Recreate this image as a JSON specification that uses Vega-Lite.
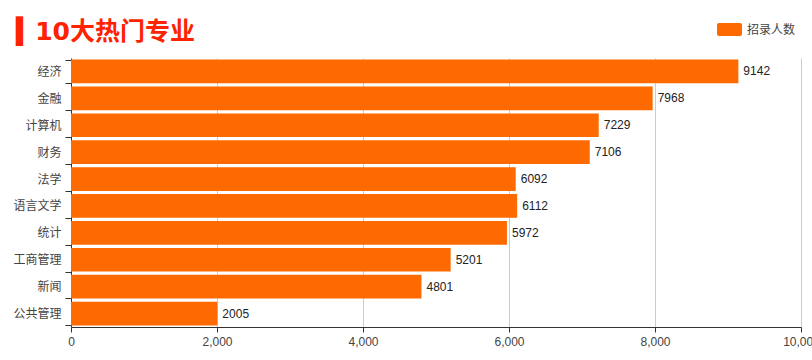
{
  "$schema": "https://vega.github.io/schema/vega-lite/v6.json",
  "autosize": {"type": "none"},
  "padding": {"left": 71, "top": 58, "right": 11, "bottom": 33},
  "width": 730,
  "height": 269,
  "background": "#ffffff",
  "view": {"stroke": null},
  "title": {
    "text": "▍10大热门专业",
    "anchor": "start",
    "frame": "group",
    "dx": -55,
    "dy": 36,
    "font": "DejaVu Sans, Noto Sans CJK SC",
    "fontSize": 25,
    "fontWeight": "bold",
    "color": "#ff2200",
    "offset": 8
  },
  "data": {
    "values": [
      {"major": "经济", "count": 9142, "series": "招录人数"},
      {"major": "金融", "count": 7968, "series": "招录人数"},
      {"major": "计算机", "count": 7229, "series": "招录人数"},
      {"major": "财务", "count": 7106, "series": "招录人数"},
      {"major": "法学", "count": 6092, "series": "招录人数"},
      {"major": "语言文学", "count": 6112, "series": "招录人数"},
      {"major": "统计", "count": 5972, "series": "招录人数"},
      {"major": "工商管理", "count": 5201, "series": "招录人数"},
      {"major": "新闻", "count": 4801, "series": "招录人数"},
      {"major": "公共管理", "count": 2005, "series": "招录人数"}
    ]
  },
  "encoding": {
    "y": {
      "field": "major",
      "type": "nominal",
      "sort": null,
      "title": null,
      "scale": {"paddingInner": 0.12, "paddingOuter": 0.06},
      "axis": {
        "domainColor": "#333333",
        "tickColor": "#333333",
        "tickBand": "extent",
        "tickSize": 6,
        "labelFont": "Noto Sans CJK SC",
        "labelFontSize": 12,
        "labelColor": "#444444",
        "labelPadding": 4,
        "grid": false
      }
    },
    "x": {
      "field": "count",
      "type": "quantitative",
      "title": null,
      "scale": {"domain": [0, 10000]},
      "axis": {
        "values": [0, 2000, 4000, 6000, 8000, 10000],
        "format": ",.0f",
        "domainColor": "#333333",
        "tickColor": "#333333",
        "tickSize": 5,
        "gridColor": "#cccccc",
        "labelFont": "Liberation Sans",
        "labelFontSize": 12,
        "labelColor": "#444444",
        "labelPadding": 4,
        "labelFlush": false
      }
    }
  },
  "layer": [
    {
      "mark": {"type": "bar", "color": "#ff6a00"},
      "encoding": {
        "color": {
          "field": "series",
          "type": "nominal",
          "scale": {"range": ["#ff6a00"]},
          "legend": {
            "title": null,
            "orient": "none",
            "legendX": 646,
            "legendY": -41,
            "symbolType": "M-0.84,-0.52 H0.84 A0.16,0.16 0 0 1 1,-0.36 V0.36 A0.16,0.16 0 0 1 0.84,0.52 H-0.84 A0.16,0.16 0 0 1 -1,0.36 V-0.36 A0.16,0.16 0 0 1 -0.84,-0.52 Z",
            "symbolSize": 625,
            "symbolStrokeWidth": 0,
            "symbolOpacity": 1,
            "labelFont": "Noto Sans CJK SC",
            "labelFontSize": 12,
            "labelColor": "#444444",
            "labelOffset": 5
          }
        }
      }
    },
    {
      "mark": {"type": "text", "align": "left", "dx": 5, "font": "Liberation Sans", "fontSize": 12, "color": "#222222"},
      "encoding": {"text": {"field": "count", "type": "quantitative"}}
    }
  ]
}
